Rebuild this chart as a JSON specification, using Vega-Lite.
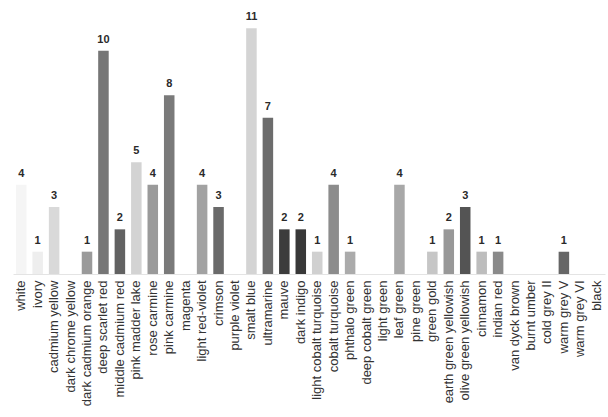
{
  "$schema": "https://vega.github.io/schema/vega-lite/v6.json",
  "autosize": "none",
  "width": 592,
  "height": 268,
  "padding": {"left": 13, "top": 6, "right": 3, "bottom": 143},
  "background": "#ffffff",
  "config": {"view": {"stroke": null}, "font": "Liberation Sans"},
  "data": {"values": [
    {"name": "white", "value": 4},
    {"name": "ivory", "value": 1},
    {"name": "cadmium yellow", "value": 3},
    {"name": "dark chrome yellow", "value": 0},
    {"name": "dark cadmium orange", "value": 1},
    {"name": "deep scarlet red", "value": 10},
    {"name": "middle cadmium red", "value": 2},
    {"name": "pink madder lake", "value": 5},
    {"name": "rose carmine", "value": 4},
    {"name": "pink carmine", "value": 8},
    {"name": "magenta", "value": 0},
    {"name": "light red-violet", "value": 4},
    {"name": "crimson", "value": 3},
    {"name": "purple violet", "value": 0},
    {"name": "smalt blue", "value": 11},
    {"name": "ultramarine", "value": 7},
    {"name": "mauve", "value": 2},
    {"name": "dark indigo", "value": 2},
    {"name": "light cobalt turquoise", "value": 1},
    {"name": "cobalt turquoise", "value": 4},
    {"name": "phthalo green", "value": 1},
    {"name": "deep cobalt green", "value": 0},
    {"name": "light green", "value": 0},
    {"name": "leaf green", "value": 4},
    {"name": "pine green", "value": 0},
    {"name": "green gold", "value": 1},
    {"name": "earth green yellowish", "value": 2},
    {"name": "olive green yellowish", "value": 3},
    {"name": "cinnamon", "value": 1},
    {"name": "indian red", "value": 1},
    {"name": "van dyck brown", "value": 0},
    {"name": "burnt umber", "value": 0},
    {"name": "cold grey II", "value": 0},
    {"name": "warm grey V", "value": 1},
    {"name": "warm grey VI", "value": 0},
    {"name": "black", "value": 0}
  ]},
  "encoding": {
    "x": {"field": "name", "type": "nominal", "sort": null,
      "scale": {"paddingInner": 0.36, "paddingOuter": 0.18},
      "axis": {"title": null, "labelAngle": -90, "labelFontSize": 13, "labelColor": "#333", "labelPadding": 6,
        "ticks": false, "domain": true, "domainColor": "#e4e4e4", "domainWidth": 1, "labelLimit": 200}},
    "y": {"field": "value", "type": "quantitative", "scale": {"domain": [0, 12], "nice": false}, "axis": null}
  },
  "layer": [
    {"mark": {"type": "bar"},
     "encoding": {"color": {"field": "name", "type": "nominal", "legend": null,
       "scale": {
         "domain": ["white","ivory","cadmium yellow","dark chrome yellow","dark cadmium orange","deep scarlet red","middle cadmium red","pink madder lake","rose carmine","pink carmine","magenta","light red-violet","crimson","purple violet","smalt blue","ultramarine","mauve","dark indigo","light cobalt turquoise","cobalt turquoise","phthalo green","deep cobalt green","light green","leaf green","pine green","green gold","earth green yellowish","olive green yellowish","cinnamon","indian red","van dyck brown","burnt umber","cold grey II","warm grey V","warm grey VI","black"],
         "range": ["#f5f5f5","#eeeeee","#d9d9d9","#cccccc","#9a9a9a","#767676","#626262","#d3d3d3","#9a9a9a","#7a7a7a","#bbbbbb","#a2a2a2","#6a6a6a","#999999","#d4d4d4","#6c6c6c","#3c3c3c","#383838","#d0d0d0","#8c8c8c","#ababab","#999999","#bbbbbb","#a8a8a8","#999999","#c6c6c6","#989898","#545454","#bdbdbd","#8a8a8a","#777777","#777777","#aaaaaa","#666666","#888888","#222222"]
       }}}},
    {"transform": [{"filter": "datum.value > 0"}],
     "mark": {"type": "text", "dy": -6, "fontSize": 11, "fontWeight": "bold", "color": "#2a2a2a", "baseline": "bottom"},
     "encoding": {"text": {"field": "value", "type": "quantitative"}}}
  ]
}
